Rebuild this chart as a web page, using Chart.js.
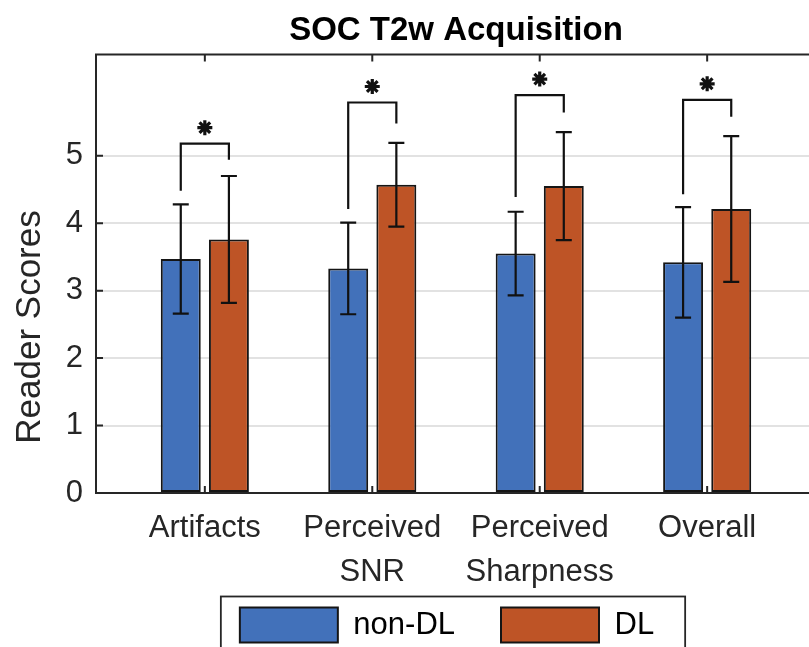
<!DOCTYPE html>
<html>
<head>
<meta charset="utf-8">
<title>SOC T2w Acquisition</title>
<script src="https://cdn.jsdelivr.net/npm/chart.js@4.4.1/dist/chart.umd.min.js"></script>
<style>
  html, body { margin: 0; padding: 0; background: #fff; overflow: hidden; }
  canvas { display: block; }
</style>
</head>
<body>
<canvas id="scoreChart" width="912" height="692"></canvas>
<script>
// Reader scores per category (mean and standard deviation)
const categories = ['Artifacts', 'Perceived\nSNR', 'Perceived\nSharpness', 'Overall'];
const nonDlMean = [3.47, 3.33, 3.55, 3.42];
const nonDlSd = [0.81, 0.68, 0.62, 0.82];
const dlMean = [3.76, 4.57, 4.55, 4.21];
const dlSd = [0.94, 0.62, 0.80, 1.08];

// Significance brackets: height of the bar, and where each leg stops
const bracketTop = [5.18, 5.79, 5.90, 5.83];
const bracketLeftEnd = [4.48, 4.21, 4.39, 4.43];
const bracketRightEnd = [4.94, 5.48, 5.64, 5.58];

const yTicks = [0, 1, 2, 3, 4, 5];

const FONT = "'Liberation Sans', Arial, Helvetica, sans-serif";
const INK = '#262626';
const sdByDataset = [nonDlSd, dlSd];

function drawStar(ctx, x, y, r) {
    ctx.beginPath();
    for (let k = 0; k < 4; k++) {
        const a = k * Math.PI / 4;
        ctx.moveTo(x - r * Math.cos(a), y - r * Math.sin(a));
        ctx.lineTo(x + r * Math.cos(a), y + r * Math.sin(a));
    }
    ctx.stroke();
}

// Error bars, significance brackets, box spines and inward ticks
const annotations = {
    id: 'annotations',
    afterLayout(chart) {
        // tuck the legend up under the first line of category labels,
        // nudged a little left of the axes centre
        const legend = chart.legend;
        const lift = legend.top - (chart.chartArea.bottom + 68.5);
        legend.top -= lift;
        legend.bottom -= lift;
        legend.left -= 9;
        legend.right -= 9;
    },
    afterDatasetsDraw(chart) {
        const ctx = chart.ctx;
        const yScale = chart.scales.y;
        const area = chart.chartArea;
        ctx.save();
        ctx.strokeStyle = '#111';
        ctx.lineWidth = 2.2;
        ctx.lineCap = 'butt';

        // error bars
        chart.data.datasets.forEach((ds, d) => {
            const meta = chart.getDatasetMeta(d);
            meta.data.forEach((bar, i) => {
                const v = ds.data[i].y;
                const sd = sdByDataset[d][i];
                const yHi = yScale.getPixelForValue(v + sd);
                const yLo = yScale.getPixelForValue(v - sd);
                ctx.beginPath();
                ctx.moveTo(bar.x, yHi);
                ctx.lineTo(bar.x, yLo);
                ctx.moveTo(bar.x - 8, yHi);
                ctx.lineTo(bar.x + 8, yHi);
                ctx.moveTo(bar.x - 8, yLo);
                ctx.lineTo(bar.x + 8, yLo);
                ctx.stroke();
            });
        });

        // brackets with asterisks
        const left = chart.getDatasetMeta(0).data;
        const right = chart.getDatasetMeta(1).data;
        bracketTop.forEach((top, i) => {
            const xl = left[i].x, xr = right[i].x;
            const yt = yScale.getPixelForValue(top);
            ctx.beginPath();
            ctx.moveTo(xl, yScale.getPixelForValue(bracketLeftEnd[i]));
            ctx.lineTo(xl, yt);
            ctx.lineTo(xr, yt);
            ctx.lineTo(xr, yScale.getPixelForValue(bracketRightEnd[i]));
            ctx.stroke();
            ctx.save();
            ctx.lineWidth = 3.2;
            drawStar(ctx, (xl + xr) / 2, yt - 16, 7.5);
            ctx.restore();
        });

        // top spine and inward tick marks
        ctx.strokeStyle = INK;
        ctx.lineWidth = 2;
        ctx.beginPath();
        ctx.moveTo(area.left - 1, area.top);
        ctx.lineTo(area.right, area.top);
        ctx.stroke();
        ctx.beginPath();
        chart.scales.x.ticks.forEach(t => {
            const x = chart.scales.x.getPixelForValue(t.value);
            ctx.moveTo(x, area.top);
            ctx.lineTo(x, area.top + 7);
            ctx.moveTo(x, area.bottom);
            ctx.lineTo(x, area.bottom - 7);
        });
        yScale.ticks.forEach(t => {
            const y = yScale.getPixelForValue(t.value);
            ctx.moveTo(area.left, y);
            ctx.lineTo(area.left + 7, y);
        });
        ctx.stroke();
        ctx.restore();
    },
    afterDraw(chart) {
        const ctx = chart.ctx;
        const area = chart.chartArea;
        ctx.save();

        // y axis label
        ctx.fillStyle = INK;
        ctx.font = '35px ' + FONT;
        ctx.textAlign = 'center';
        ctx.textBaseline = 'middle';
        ctx.translate(30, area.bottom - 166);
        ctx.rotate(-Math.PI / 2);
        ctx.fillText('Reader Scores', 0, 0);
        ctx.restore();

        // frame around the legend
        const boxes = chart.legend.legendHitBoxes;
        if (boxes && boxes.length) {
            const first = boxes[0], last = boxes[boxes.length - 1];
            ctx.save();
            ctx.strokeStyle = INK;
            ctx.lineWidth = 1.8;
            ctx.strokeRect(first.left - 19, first.top - 11,
                last.left + last.width + 31 - (first.left - 19), 80);
            ctx.restore();
        }
    }
};

new Chart(document.getElementById('scoreChart'), {
    type: 'bar',
    data: {
        datasets: [{
            label: 'non-DL',
            data: nonDlMean.map((v, i) => ({ x: i + 1, y: v })),
            backgroundColor: '#4271BA',
            borderColor: '#151515',
            borderWidth: 2,
            borderSkipped: false
        }, {
            label: 'DL',
            data: dlMean.map((v, i) => ({ x: i + 1, y: v })),
            backgroundColor: '#BE5426',
            borderColor: '#151515',
            borderWidth: 2,
            borderSkipped: false
        }]
    },
    options: {
        responsive: false,
        animation: false,
        devicePixelRatio: 1,
        categoryPercentage: 0.575,
        barPercentage: 0.83,
        layout: { padding: { left: 0, right: 0, top: 0, bottom: 8 } },
        plugins: {
            title: {
                display: true,
                text: 'SOC T2w Acquisition',
                color: '#000',
                font: { family: FONT, size: 33, weight: 'bold', lineHeight: 1.2 },
                padding: { top: 11, bottom: 4 }
            },
            legend: {
                display: true,
                position: 'bottom',
                labels: {
                    color: '#000',
                    font: { family: FONT, size: 31 },
                    boxWidth: 98,
                    boxHeight: 35,
                    padding: 46
                }
            },
            tooltip: { enabled: false }
        },
        scales: {
            x: {
                type: 'linear',
                offset: false,
                min: 0.35,
                max: 4.65,
                afterBuildTicks: axis => {
                    axis.ticks = categories.map((c, i) => ({ value: i + 1 }));
                },
                afterFit: axis => { axis.height = 100; },
                grid: { display: false, drawTicks: false },
                border: { display: true, color: INK, width: 2 },
                ticks: {
                    color: INK,
                    padding: 13,
                    maxRotation: 0,
                    autoSkip: false,
                    font: { family: FONT, size: 31, lineHeight: 1.42 },
                    callback: value => categories[value - 1].split('\n')
                }
            },
            y: {
                min: 0,
                max: 6.5,
                afterBuildTicks: axis => {
                    axis.ticks = yTicks.map(v => ({ value: v }));
                },
                afterFit: axis => { axis.width = 96; },
                grid: { color: '#e2e2e2', lineWidth: 2, drawTicks: false },
                border: { display: true, color: INK, width: 2 },
                ticks: {
                    color: INK,
                    padding: 13,
                    font: { family: FONT, size: 31 }
                }
            },
            // empty right-hand margin, mirrors the label column on the left
            yRight: {
                type: 'linear',
                position: 'right',
                display: true,
                afterFit: axis => { axis.width = 96; },
                grid: { display: false, drawTicks: false },
                border: { display: false },
                ticks: { display: false }
            }
        }
    },
    plugins: [annotations]
});
</script>
</body>
</html>
